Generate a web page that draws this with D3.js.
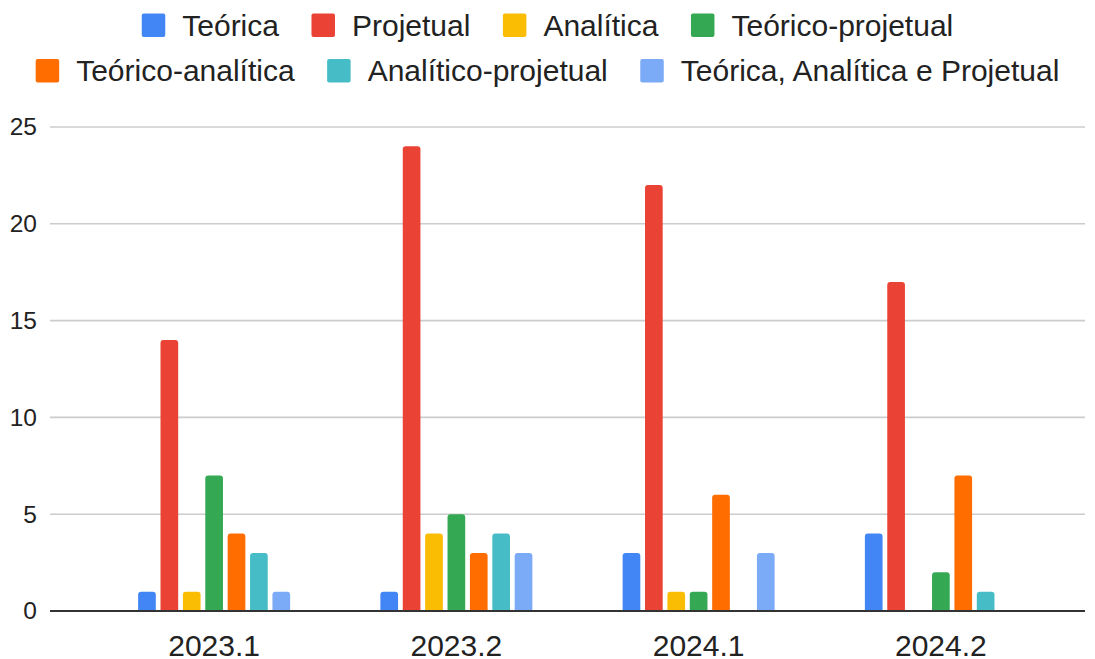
<!DOCTYPE html>
<html>
<head>
<meta charset="utf-8">
<script src="https://cdn.jsdelivr.net/npm/d3@7"></script>
<style>
  html, body { margin: 0; padding: 0; background: #fff; }
  svg { display: block; font-family: "Liberation Sans", Arial, Helvetica, sans-serif; }
</style>
</head>
<body>
<svg id="chart" width="1095" height="659"></svg>
<script>
// Semesters on the x axis
const semesters = ["2023.1", "2023.2", "2024.1", "2024.2"];

// Course types (one bar per type within each semester)
const types = [
  "Teórica", "Projetual", "Analítica", "Teórico-projetual",
  "Teórico-analítica", "Analítico-projetual", "Teórica, Analítica e Projetual"
];
const colors = ["#4285F4", "#EA4335", "#FBBC04", "#34A853", "#FF6D01", "#46BDC6", "#7BAAF7"];

// Counts per type, in semester order
const teorica            = [1, 1, 3, 4];
const projetual          = [14, 24, 22, 17];
const analitica          = [1, 4, 1, 0];
const teoricoProjetual   = [7, 5, 1, 2];
const teoricoAnalitica   = [4, 3, 6, 7];
const analiticoProjetual = [3, 4, 0, 1];
const tap                = [1, 3, 3, 0];

const yTicks = [0, 5, 10, 15, 20, 25];

const seriesValues = [teorica, projetual, analitica, teoricoProjetual, teoricoAnalitica, analiticoProjetual, tap];

const svg = d3.select("#chart");

const gridLeft = 50, gridRight = 1085;
const x0 = d3.scaleBand().domain(semesters).range([93, 1062]).paddingInner(0).paddingOuter(0);
const groupWidth = 152;
const x1 = d3.scaleBand().domain(types).range([0, groupWidth]).paddingInner(0.21).paddingOuter(0);
const y = d3.scaleLinear().domain([0, 25]).range([611, 127]);

// Horizontal gridlines
svg.append("g")
  .selectAll("line")
  .data(yTicks.filter(t => t !== 0))
  .join("line")
  .attr("x1", gridLeft).attr("x2", gridRight)
  .attr("y1", d => y(d)).attr("y2", d => y(d))
  .attr("stroke", "#cccccc").attr("stroke-width", 1.6);

// Y tick labels
const yAxis = d3.axisLeft(y).tickValues(yTicks).tickSize(0).tickPadding(0);
const yg = svg.append("g").attr("transform", "translate(37,0)").call(yAxis);
yg.select(".domain").remove();
yg.selectAll("text")
  .attr("font-size", 24.5).attr("fill", "#222")
  .attr("font-family", "Liberation Sans, Arial, sans-serif");

// Bars: rounded top corners, flat bottom
function barPath(x, yTop, w, yBase, r) {
  const h = yBase - yTop;
  if (h <= 0) return "";
  r = Math.min(r, h, w / 2);
  return `M${x},${yBase}V${yTop + r}Q${x},${yTop} ${x + r},${yTop}H${x + w - r}Q${x + w},${yTop} ${x + w},${yTop + r}V${yBase}Z`;
}

const bars = [];
semesters.forEach((s, i) => {
  types.forEach((t, j) => {
    bars.push({ semester: s, type: t, value: seriesValues[j][i], color: colors[j] });
  });
});

svg.append("g")
  .selectAll("path")
  .data(bars.filter(d => d.value > 0))
  .join("path")
  .attr("d", d => {
    const gx = x0(d.semester) + x0.bandwidth() / 2 - groupWidth / 2;
    return barPath(gx + x1(d.type), y(d.value), x1.bandwidth(), y(0), 3);
  })
  .attr("fill", d => d.color);

// Baseline
svg.append("line")
  .attr("x1", gridLeft).attr("x2", gridRight)
  .attr("y1", y(0)).attr("y2", y(0))
  .attr("stroke", "#333").attr("stroke-width", 2);

// X axis labels
const xAxis = d3.axisBottom(x0).tickSize(0).tickPadding(0);
const xg = svg.append("g").attr("transform", "translate(0,656)").call(xAxis);
xg.select(".domain").remove();
xg.selectAll("text")
  .attr("y", 0).attr("dy", 0)
  .attr("font-size", 30).attr("fill", "#222")
  .attr("font-family", "Liberation Sans, Arial, sans-serif");

// Legend, two centred rows
const legendRows = [[0, 1, 2, 3], [4, 5, 6]];
const rowY = [25.3, 70.7];
const sw = 23.5, swGap = 17, itemGap = 32.5, legendCenter = 547.5;
const lg = svg.append("g");
legendRows.forEach((row, ri) => {
  const rowG = lg.append("g");
  let cx = 0;
  row.forEach(j => {
    const item = rowG.append("g").attr("transform", `translate(${cx},0)`);
    item.append("rect")
      .attr("x", 0).attr("y", rowY[ri] - sw / 2)
      .attr("width", sw).attr("height", sw)
      .attr("rx", 2).attr("fill", colors[j]);
    const txt = item.append("text")
      .attr("x", sw + swGap).attr("y", rowY[ri])
      .attr("dy", "0.35em")
      .attr("font-size", 30).attr("fill", "#222")
      .text(types[j]);
    cx += sw + swGap + txt.node().getComputedTextLength() + itemGap;
  });
  const total = cx - itemGap;
  rowG.attr("transform", `translate(${legendCenter - total / 2},0)`);
});
</script>
</body>
</html>
